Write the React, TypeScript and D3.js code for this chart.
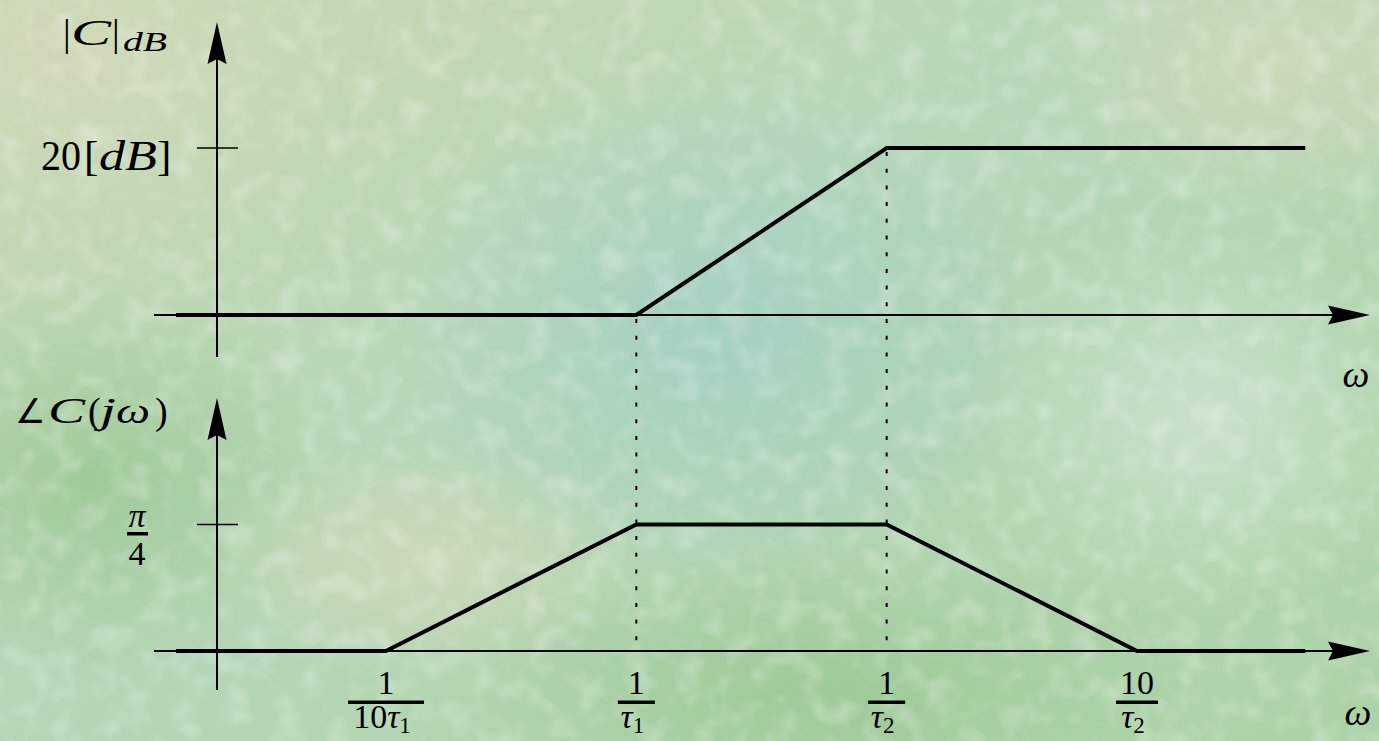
import React from "react";
import * as d3 from "d3";

// break frequencies (omega, arbitrary units: 1/tau1 = 1, 1/tau2 = 10)
const omegaTicks = [0.1, 1, 10, 100];
const omegaNum = ["1", "1", "1", "10"];
const omegaDen = ["10τ", "τ", "τ", "τ"];
const omegaSub = ["1", "1", "2", "2"];

// magnitude asymptote (dB)
const magOmega = [0.0145, 1, 10, 470];
const magDb = [0, 0, 20, 20];

// phase asymptote (rad)
const phaseOmega = [0.0145, 0.1, 1, 10, 100, 470];
const phaseRad = [0, 0, Math.PI / 4, Math.PI / 4, 0, 0];

const W = 1379;
const H = 741;
const font = "Liberation Serif, serif";

const arrow = (x: number, y: number, dir: "up" | "right") => {
    const L = 42, h = 9.5, n = 5;
    if (dir === "right")
        return `M${x},${y} L${x - L},${y - h} L${x - L + n},${y} L${x - L},${y + h} Z`;
    return `M${x},${y} L${x - h},${y + L} L${x},${y + L - n} L${x + h},${y + L} Z`;
};

// a text piece squeezed/stretched to the width it has in the original
const T = ({ x, y, s, w, it, children }: { x: number; y: number; s: number; w?: number; it?: boolean; children: string }) => (
    <text x={x} y={y} fontSize={s} fontStyle={it ? "italic" : "normal"}
        textLength={w} lengthAdjust={w ? "spacingAndGlyphs" : undefined}>{children}</text>
);

const Frac = ({ cx, num, den, sub, bw }: { cx: number; num: string; den: string; sub: string; bw: number }) => (
    <g fill="#000">
        <text x={cx} y={694} fontSize={34} textAnchor="middle">{num}</text>
        <rect x={cx - bw / 2} y={700.5} width={bw} height={3.5} />
        <text x={cx - 4} y={728} fontSize={34} textAnchor="middle">
            {den.replace("τ", "")}
            <tspan fontStyle="italic">τ</tspan>
            <tspan fontSize={23} dy={5}>{sub}</tspan>
        </text>
    </g>
);

const App = () => {
    const x = d3.scaleLog().domain([0.1, 100]).range([386, 1137]);
    const yMag = d3.scaleLinear().domain([0, 20]).range([315, 148]);
    const yPh = d3.scaleLinear().domain([0, Math.PI / 4]).range([651, 524.5]);

    const magLine = d3.line<number>().x((d, i) => x(magOmega[i])).y((d) => yMag(d));
    const phLine = d3.line<number>().x((d, i) => x(phaseOmega[i])).y((d) => yPh(d));

    const axX = 217;
    const xLeft = 154, xTip = 1370;
    const bw = [76, 37, 37, 42];

    return (
        <svg width={W} height={H} style={{ position: "fixed", left: 0, top: 0, display: "block", fontFamily: font }}>
            <defs>
                <linearGradient id="bg" x1="0" y1="0" x2="1" y2="1">
                    <stop offset="0" stopColor="#c8d8b2" />
                    <stop offset="0.45" stopColor="#b6d6b8" />
                    <stop offset="1" stopColor="#add2a7" />
                </linearGradient>
                <radialGradient id="b1"><stop offset="0" stopColor="#9fcfc4" stopOpacity="0.75" /><stop offset="1" stopColor="#9fcfc4" stopOpacity="0" /></radialGradient>
                <radialGradient id="b2"><stop offset="0" stopColor="#98c690" stopOpacity="0.75" /><stop offset="1" stopColor="#98c690" stopOpacity="0" /></radialGradient>
                <radialGradient id="b3"><stop offset="0" stopColor="#d2d9bb" stopOpacity="0.8" /><stop offset="1" stopColor="#d2d9bb" stopOpacity="0" /></radialGradient>
                <radialGradient id="b4"><stop offset="0" stopColor="#cfe3cf" stopOpacity="0.8" /><stop offset="1" stopColor="#cfe3cf" stopOpacity="0" /></radialGradient>
                <filter id="tex" x="0" y="0" width="100%" height="100%">
                    <feTurbulence type="fractalNoise" baseFrequency="0.04" numOctaves="2" seed="3" result="n" />
                    <feColorMatrix in="n" type="matrix" values="0 0 0 0 1  0 0 0 0 1  0 0 0 0 1  0 0 0 -2.4 1.3" />
                </filter>
            </defs>
            <rect width={W} height={H} fill="url(#bg)" />
            <ellipse cx={720} cy={330} rx={330} ry={260} fill="url(#b1)" />
            <ellipse cx={90} cy={480} rx={260} ry={200} fill="url(#b2)" />
            <ellipse cx={820} cy={690} rx={380} ry={140} fill="url(#b2)" />
            <ellipse cx={420} cy={560} rx={230} ry={120} fill="url(#b3)" />
            <ellipse cx={1280} cy={60} rx={260} ry={160} fill="url(#b3)" />
            <ellipse cx={1200} cy={420} rx={240} ry={200} fill="url(#b4)" />
            <ellipse cx={80} cy={60} rx={260} ry={180} fill="url(#b3)" />
            <rect width={W} height={H} filter="url(#tex)" opacity={0.28} />

            {/* axes */}
            <g stroke="#000" strokeWidth={2} fill="none">
                <line x1={axX} y1={357} x2={axX} y2={50} />
                <line x1={xLeft} y1={yMag(0)} x2={xTip - 30} y2={yMag(0)} />
                <line x1={axX} y1={690} x2={axX} y2={420} />
                <line x1={xLeft} y1={yPh(0)} x2={xTip - 30} y2={yPh(0)} />
                <line x1={197} x2={238} y1={yMag(20)} y2={yMag(20)} strokeWidth={1.6} />
                <line x1={197} x2={238} y1={yPh(Math.PI / 4)} y2={yPh(Math.PI / 4)} strokeWidth={1.6} />
            </g>
            <g fill="#000">
                <path d={arrow(axX, 22, "up")} />
                <path d={arrow(xTip, yMag(0), "right")} />
                <path d={arrow(axX, 398, "up")} />
                <path d={arrow(xTip, yPh(0), "right")} />
            </g>

            {/* guide lines */}
            <g stroke="#000" strokeWidth={2} strokeDasharray="4 12.7">
                <line x1={x(1)} x2={x(1)} y1={yMag(0) + 4} y2={yPh(0)} />
                <line x1={x(10)} x2={x(10)} y1={yMag(20) + 4} y2={yPh(0)} />
            </g>

            {/* asymptotes */}
            <path d={magLine(magDb) || ""} fill="none" stroke="#000" strokeWidth={4} strokeLinejoin="miter" />
            <path d={phLine(phaseRad) || ""} fill="none" stroke="#000" strokeWidth={4} strokeLinejoin="miter" />

            {/* labels */}
            <g fill="#000">
                <T x={63} y={46} s={38}>|</T>
                <T x={71} y={45} s={36} w={40} it>C</T>
                <T x={112} y={46} s={38}>|</T>
                <T x={123} y={51} s={27} w={44} it>dB</T>

                <T x={41} y={170} s={43} w={40}>20</T>
                <T x={84} y={170} s={43}>[</T>
                <T x={99} y={170} s={43} w={58} it>dB</T>
                <T x={157} y={170} s={43}>]</T>

                <T x={15} y={423} s={34} w={30}>∠</T>
                <T x={48} y={423} s={36} w={37} it>C</T>
                <T x={88} y={424} s={38}>(</T>
                <T x={100} y={423} s={36} w={16} it>j</T>
                <T x={116} y={423} s={36} w={34} it>ω</T>
                <T x={155} y={424} s={38}>)</T>

                <text x={137} y={527} fontSize={34} fontStyle="italic" textAnchor="middle">π</text>
                <rect x={127} y={532} width={21} height={3.5} />
                <text x={137} y={565} fontSize={34} textAnchor="middle">4</text>

                <text x={1356} y={387} fontSize={38} fontStyle="italic" textAnchor="middle">ω</text>
                <text x={1358} y={725} fontSize={38} fontStyle="italic" textAnchor="middle">ω</text>
            </g>
            {omegaTicks.map((w, i) => (
                <Frac key={i} cx={x(w)} num={omegaNum[i]} den={omegaDen[i]} sub={omegaSub[i]} bw={bw[i]} />
            ))}
        </svg>
    );
};

export default App;
